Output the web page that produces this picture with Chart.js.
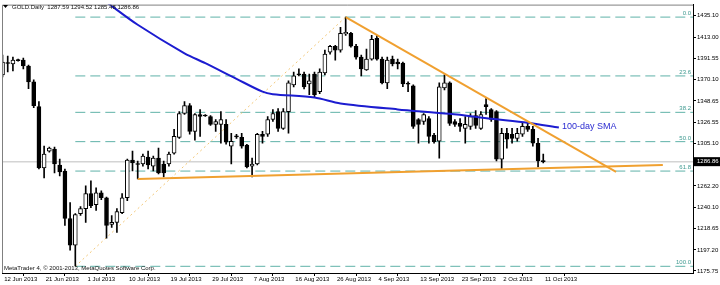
<!DOCTYPE html>
<html>
<head>
<meta charset="utf-8">
<script src="https://cdn.jsdelivr.net/npm/chart.js@4.4.0/dist/chart.umd.min.js"></script>
<style>
  html, body { margin: 0; padding: 0; background: #fff; }
</style>
</head>
<body>
<canvas id="goldChart" width="720" height="285"></canvas>
<script>
// daily candles, 12 Jun 2013 -> 11 Oct 2013 (Sunday bars included)
const opens = [1375.0, 1387.6, 1386.1, 1390.1, 1390.1, 1384.1, 1368.0, 1342.8, 1280.4, 1297.5,
  1299.6, 1283.5, 1277.4, 1229.1, 1201.9, 1234.1, 1239.2, 1254.3, 1243.2, 1255.3,
  1250.2, 1223.1, 1225.1, 1235.1, 1250.2, 1288.5, 1285.0, 1284.5, 1291.5, 1282.4,
  1290.5, 1284.5, 1284.5, 1295.5, 1311.6, 1335.8, 1343.8, 1317.7, 1334.8, 1333.8,
  1332.8, 1324.7, 1324.7, 1324.7, 1302.6, 1312.6, 1311.6, 1303.6, 1282.4, 1284.5,
  1314.7, 1314.7, 1329.7, 1337.8, 1320.7, 1337.8, 1364.9, 1376.0, 1376.0, 1366.0,
  1376.0, 1357.9, 1377.0, 1398.2, 1404.2, 1400.2, 1416.8, 1417.3, 1404.2, 1393.1,
  1380.1, 1391.1, 1412.3, 1391.1, 1367.0, 1391.1, 1388.1, 1387.1, 1366.0, 1364.0,
  1329.7, 1327.7, 1330.7, 1313.6, 1307.6, 1361.9, 1367.0, 1327.7, 1325.7, 1320.7,
  1322.7, 1333.8, 1320.7, 1344.8, 1339.8, 1337.8, 1289.5, 1315.7, 1314.7, 1310.6,
  1314.7, 1322.7, 1319.7, 1305.6, 1287.59];
const highs = [1395.2, 1394.2, 1393.1, 1391.1, 1392.1, 1385.1, 1370.0, 1347.9, 1302.6, 1301.6,
  1301.6, 1289.5, 1279.4, 1245.2, 1234.1, 1241.2, 1262.3, 1267.3, 1260.3, 1257.3,
  1250.8, 1232.1, 1239.2, 1254.3, 1289.5, 1297.5, 1287.5, 1294.5, 1297.5, 1292.5,
  1300.6, 1287.5, 1296.5, 1319.7, 1337.8, 1347.9, 1345.8, 1335.8, 1339.8, 1334.8,
  1333.8, 1329.7, 1337.8, 1329.7, 1315.7, 1314.7, 1315.7, 1304.6, 1290.5, 1315.7,
  1317.7, 1332.8, 1339.8, 1340.8, 1340.8, 1369.0, 1378.0, 1381.1, 1378.0, 1376.0,
  1378.0, 1381.1, 1400.2, 1405.2, 1405.2, 1423.3, 1433.8, 1418.3, 1406.2, 1395.2,
  1401.2, 1415.3, 1415.3, 1393.1, 1393.1, 1394.2, 1391.1, 1388.1, 1368.0, 1365.0,
  1330.7, 1335.8, 1332.8, 1315.7, 1367.0, 1375.0, 1368.0, 1329.7, 1330.7, 1332.8,
  1335.8, 1338.8, 1337.8, 1350.9, 1340.8, 1338.8, 1320.7, 1320.7, 1320.7, 1320.7,
  1325.7, 1327.7, 1322.7, 1310.6, 1294.52];
const lows = [1373.0, 1378.0, 1379.1, 1389.1, 1381.1, 1361.0, 1341.8, 1279.4, 1270.4, 1296.5,
  1275.4, 1272.4, 1222.1, 1196.9, 1180.8, 1232.1, 1225.1, 1240.2, 1237.2, 1248.2,
  1209.0, 1220.0, 1215.0, 1234.1, 1247.2, 1277.4, 1269.4, 1282.4, 1279.4, 1277.4,
  1274.4, 1271.4, 1282.4, 1294.5, 1310.6, 1334.8, 1314.7, 1308.6, 1312.6, 1332.8,
  1323.7, 1317.7, 1305.6, 1304.6, 1284.5, 1310.6, 1300.6, 1280.4, 1271.4, 1283.5,
  1305.6, 1312.6, 1327.7, 1317.7, 1319.7, 1315.7, 1362.9, 1374.0, 1360.9, 1354.9,
  1352.9, 1355.9, 1375.0, 1396.2, 1390.1, 1398.2, 1415.3, 1403.2, 1391.1, 1374.0,
  1379.6, 1390.1, 1390.1, 1366.0, 1361.0, 1384.1, 1381.1, 1363.0, 1357.9, 1320.7,
  1305.6, 1324.7, 1305.6, 1305.6, 1290.5, 1359.9, 1323.7, 1322.7, 1317.7, 1305.6,
  1319.7, 1320.7, 1319.7, 1334.8, 1327.7, 1287.5, 1279.4, 1300.6, 1305.6, 1307.6,
  1312.6, 1317.7, 1302.6, 1281.4, 1285.48];
const closes = [1388.1, 1386.6, 1390.1, 1389.6, 1384.1, 1368.0, 1343.8, 1280.4, 1294.5, 1300.6,
  1284.5, 1276.4, 1229.1, 1201.9, 1233.1, 1239.2, 1254.3, 1242.2, 1255.3, 1250.2,
  1222.1, 1225.1, 1236.2, 1250.2, 1288.5, 1285.5, 1284.0, 1292.5, 1283.5, 1290.5,
  1275.4, 1275.4, 1294.5, 1312.6, 1335.8, 1343.8, 1317.7, 1334.8, 1332.8, 1333.3,
  1324.7, 1327.7, 1329.7, 1306.6, 1307.6, 1312.1, 1302.6, 1281.4, 1284.5, 1314.7,
  1312.6, 1329.7, 1335.8, 1320.7, 1337.8, 1367.0, 1374.0, 1375.0, 1362.9, 1369.0,
  1354.9, 1378.0, 1396.2, 1404.2, 1400.2, 1417.3, 1418.3, 1404.2, 1393.1, 1381.1,
  1391.1, 1411.3, 1391.1, 1367.0, 1390.1, 1386.1, 1386.1, 1366.0, 1365.5, 1322.7,
  1324.7, 1334.8, 1312.6, 1307.1, 1363.0, 1367.0, 1325.7, 1324.7, 1322.7, 1324.7,
  1332.8, 1323.7, 1334.8, 1342.8, 1329.7, 1289.5, 1315.7, 1309.6, 1310.6, 1315.7,
  1322.7, 1319.7, 1305.6, 1287.5, 1286.86];

// 100-day SMA (bar index / price)
const smaIdx = [20, 26, 35, 39, 45, 50, 52, 60, 65, 76, 86, 94, 101, 107];
const smaVal = [1449, 1426, 1397, 1387, 1371, 1358, 1355.5, 1352, 1346, 1340, 1335.5, 1330.5, 1326.5, 1321.5];

// time axis labels, one every 8 bars
const dateTicks = ["12 Jun 2013", "21 Jun 2013", "1 Jul 2013", "10 Jul 2013", "19 Jul 2013",
  "29 Jul 2013", "7 Aug 2013", "16 Aug 2013", "26 Aug 2013", "4 Sep 2013", "13 Sep 2013",
  "23 Sep 2013", "2 Oct 2013", "11 Oct 2013"];
const priceTicks = [1435.10, 1413.00, 1391.55, 1370.10, 1348.65, 1326.55, 1305.10, 1283.65,
  1262.20, 1240.10, 1218.65, 1197.20, 1175.75];

// fibonacci retracement (low 28 Jun -> high 28 Aug)
const fibNames = ["0.0", "23.6", "38.2", "50.0", "61.8", "100.0"];
const fibPrices = [1433.8, 1374.0, 1337.0, 1307.2, 1277.3, 1180.5];
const fibStartIdx = 14;
const swingLine = [[14, 1180.5], [66, 1433.8]];
const resistLine = [[66, 1433.8], [118, 1276.4]];
const supportLine = [[26, 1269.3], [127, 1283.4]];

const lastPrice = 1286.86;
const headerText = "GOLD.Daily  1287.59 1294.52 1285.48 1286.86";
const footerText = "MetaTrader 4, \u00a9 2001-2013, MetaQuotes Software Corp.";

const X_MIN = -0.1;
const X_MAX = 132.8;
const FONT = '"Liberation Sans", Arial, sans-serif';

const toPts = (arr) => arr.map((p) => ({ x: p[0], y: p[1] }));

const datasets = [];

// bid line
datasets.push({
  type: "line",
  data: [{ x: X_MIN, y: lastPrice }, { x: X_MAX, y: lastPrice }],
  borderColor: "#d4d4d4",
  borderWidth: 1.5,
  pointRadius: 0,
  order: 20,
});

fibPrices.forEach((p) => {
  datasets.push({
    type: "line",
    data: [{ x: fibStartIdx, y: p }, { x: X_MAX, y: p }],
    borderColor: "#5fb2a8",
    borderWidth: 1,
    borderDash: [10, 5],
    pointRadius: 0,
    order: 19,
  });
});

datasets.push({
  type: "line",
  data: toPts(swingLine),
  borderColor: "#f2c777",
  borderWidth: 1,
  borderDash: [2, 3],
  pointRadius: 0,
  order: 18,
});

// wicks
datasets.push({
  type: "bar",
  data: lows.map((l, i) => ({ x: i, y: [l, highs[i]] })),
  backgroundColor: "#000",
  barThickness: 1,
  grouped: false,
  order: 10,
});

// bodies
datasets.push({
  type: "bar",
  data: opens.map((o, i) => ({ x: i, y: [o, closes[i]] })),
  backgroundColor: closes.map((c, i) => (c >= opens[i] ? "#fff" : "#000")),
  borderColor: "#000",
  borderWidth: 1,
  borderSkipped: false,
  barThickness: 4,
  minBarLength: 1,
  grouped: false,
  order: 9,
});

datasets.push({
  type: "line",
  data: smaIdx.map((x, k) => ({ x: x, y: smaVal[k] })),
  borderColor: "#1c1cd0",
  borderWidth: 2,
  pointRadius: 0,
  tension: 0.3,
  order: 5,
});

[resistLine, supportLine].forEach((ln) => {
  datasets.push({
    type: "line",
    data: toPts(ln),
    borderColor: "#f0a030",
    borderWidth: 2,
    pointRadius: 0,
    order: 4,
  });
});

const overlay = {
  id: "overlay",
  afterDraw(chart) {
    const { ctx, chartArea, scales } = chart;
    const y = scales.y;
    ctx.save();

    // frame left / top
    ctx.strokeStyle = "#808080";
    ctx.lineWidth = 1;
    ctx.beginPath();
    ctx.moveTo(chartArea.left + 0.5, chartArea.bottom);
    ctx.lineTo(chartArea.left + 0.5, chartArea.top + 0.5);
    ctx.lineTo(chartArea.right, chartArea.top + 0.5);
    ctx.stroke();

    // fib level names
    ctx.font = "6px " + FONT;
    ctx.fillStyle = "#3f9a90";
    ctx.textAlign = "right";
    ctx.textBaseline = "bottom";
    fibPrices.forEach((p, k) => {
      ctx.fillText(fibNames[k], chartArea.right - 2, y.getPixelForValue(p) - 0.5);
    });

    // sma label
    ctx.font = "9px " + FONT;
    ctx.fillStyle = "#2a2ad0";
    ctx.textAlign = "left";
    ctx.textBaseline = "middle";
    ctx.fillText("100-day SMA", 562, y.getPixelForValue(1322.5));

    // header
    ctx.fillStyle = "#000";
    ctx.beginPath();
    ctx.moveTo(3, 5);
    ctx.lineTo(8, 5);
    ctx.lineTo(5.5, 8);
    ctx.closePath();
    ctx.fill();
    ctx.font = "6px " + FONT;
    ctx.fillStyle = "#111";
    ctx.textBaseline = "middle";
    ctx.fillText(headerText, 12, 7);

    // footer
    ctx.textBaseline = "alphabetic";
    ctx.fillText(footerText, 4, 270);

    // current price box
    const py = y.getPixelForValue(lastPrice);
    ctx.fillStyle = "#000";
    ctx.fillRect(chartArea.right + 1, py - 4.5, 26, 9);
    ctx.fillStyle = "#fff";
    ctx.textBaseline = "middle";
    ctx.fillText(lastPrice.toFixed(2), chartArea.right + 4, py);
    ctx.restore();
  },
};

new Chart(document.getElementById("goldChart"), {
  type: "bar",
  data: { datasets: datasets },
  options: {
    responsive: false,
    animation: false,
    events: [],
    layout: { padding: { left: 2, top: 2, right: 0, bottom: 0 } },
    plugins: { legend: { display: false }, tooltip: { enabled: false } },
    scales: {
      x: {
        type: "linear",
        min: X_MIN,
        max: X_MAX,
        offset: false,
        afterBuildTicks: (scale) => {
          scale.ticks = dateTicks.map((d, k) => ({ value: k * 8 }));
        },
        afterFit: (scale) => {
          scale.height = 12;
        },
        grid: { drawOnChartArea: false, tickLength: 3, color: "#000" },
        border: { display: true, color: "#000" },
        ticks: {
          autoSkip: false,
          maxRotation: 0,
          align: "start",
          padding: 0,
          color: "#000",
          font: { family: FONT, size: 6 },
          callback: (v, idx) => " " + dateTicks[idx],
        },
      },
      y: {
        position: "right",
        min: 1173.7,
        max: 1446.5,
        afterBuildTicks: (scale) => {
          scale.ticks = priceTicks.map((v) => ({ value: v }));
        },
        afterFit: (scale) => {
          scale.width = 27;
        },
        grid: { drawOnChartArea: false, tickLength: 3, color: "#000" },
        border: { display: true, color: "#000" },
        ticks: {
          padding: 1,
          color: "#000",
          font: { family: FONT, size: 6 },
          callback: (v) => Number(v).toFixed(2),
        },
      },
    },
  },
  plugins: [overlay],
});
</script>
</body>
</html>
